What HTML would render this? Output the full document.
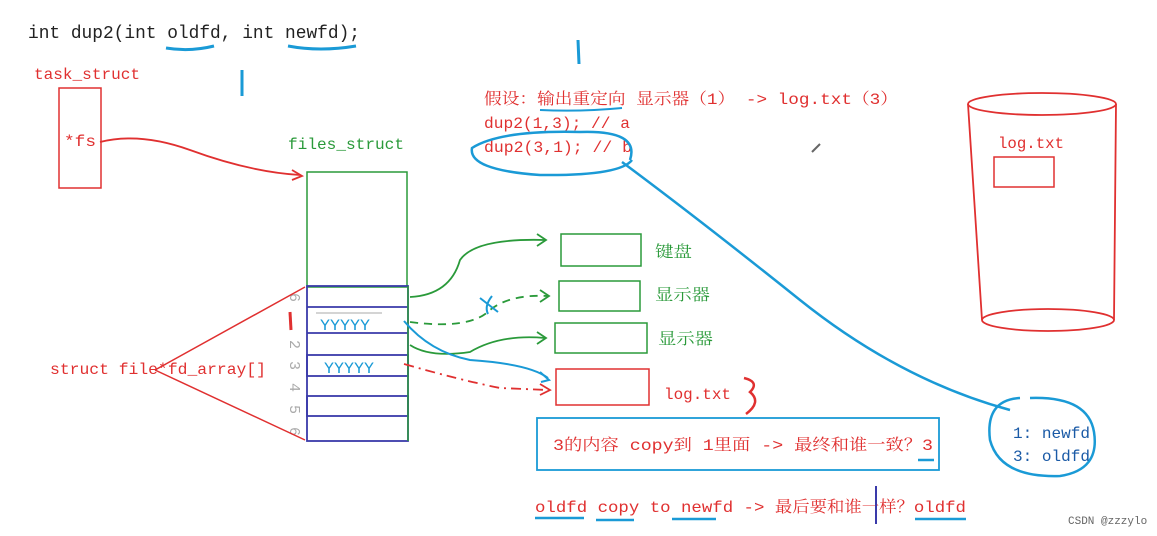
<!DOCTYPE html>
<html><head><meta charset="utf-8"><style>
body{margin:0;background:#fff;}
svg{display:block}
text{font-family:"Liberation Mono","Noto Serif CJK SC","Noto Sans CJK SC",monospace;}
</style></head><body>
<svg width="1157" height="536" viewBox="0 0 1157 536" xmlns="http://www.w3.org/2000/svg">
<rect width="1157" height="536" fill="#fff"/>
<text x="28" y="38" font-size="18" fill="#222" textLength="332" lengthAdjust="spacingAndGlyphs">int dup2(int oldfd, int newfd);</text>
<path d="M166 48 Q190 52 214 46" stroke="#1a9ad6" stroke-width="3" fill="none"/>
<path d="M288 46 Q320 52 356 46" stroke="#1a9ad6" stroke-width="3" fill="none"/>
<path d="M242 70 L242 96" stroke="#1a9ad6" stroke-width="3"/>
<path d="M578 40 L579 64" stroke="#1a9ad6" stroke-width="3"/>
<text x="34" y="79" font-size="16" fill="#e03030" textLength="106" lengthAdjust="spacingAndGlyphs">task_struct</text>
<rect x="59" y="88" width="42" height="100" fill="none" stroke="#e03030" stroke-width="1.5"/>
<text x="64" y="146" font-size="16" fill="#e03030" textLength="32" lengthAdjust="spacingAndGlyphs">*fs</text>
<path d="M100 142 Q140 132 190 150 Q250 172 300 175" stroke="#e03030" stroke-width="1.8" fill="none"/>
<path d="M292 170 L302 176 L292 180" stroke="#e03030" stroke-width="1.8" fill="none"/>
<text x="288" y="149" font-size="16" fill="#2a9a3a" textLength="116" lengthAdjust="spacingAndGlyphs">files_struct</text>
<rect x="307" y="172" width="100" height="115" fill="none" stroke="#2a9a3a" stroke-width="1.5"/>
<g stroke="#3a3aaa" stroke-width="1.8" fill="none">
<rect x="307" y="286" width="101" height="155"/>
<line x1="307" y1="307" x2="408" y2="307"/>
<line x1="307" y1="333" x2="408" y2="333"/>
<rect x="307" y="355" width="101" height="21"/>
<rect x="307" y="396" width="101" height="20"/>
</g>
<line x1="408" y1="286" x2="408" y2="441" stroke="#2a9a3a" stroke-width="1.5"/>
<line x1="316" y1="313" x2="382" y2="313" stroke="#aaa" stroke-width="1"/>
<text x="320" y="330" font-size="16" fill="#1a9ad6" textLength="50" lengthAdjust="spacingAndGlyphs">YYYYY</text>
<text x="324" y="373" font-size="16" fill="#1a9ad6" textLength="50" lengthAdjust="spacingAndGlyphs">YYYYY</text>
<g font-size="15" fill="#aaa">
<text x="285" y="298" transform="rotate(90 290 298)">6</text>
<text x="285" y="345" transform="rotate(90 290 345)">2</text>
<text x="285" y="366" transform="rotate(90 290 366)">3</text>
<text x="285" y="388" transform="rotate(90 290 388)">4</text>
<text x="285" y="410" transform="rotate(90 290 410)">5</text>
<text x="285" y="432" transform="rotate(90 290 432)">6</text>
</g>
<path d="M290 312 L291 330" stroke="#e03030" stroke-width="3"/>
<text x="50" y="374" font-size="16" fill="#e03030" textLength="216" lengthAdjust="spacingAndGlyphs">struct file*fd_array[]</text>
<path d="M155 370 L305 287 M155 370 L305 440" stroke="#e03030" stroke-width="1.5" fill="none"/>
<g font-size="16" fill="#2a9a3a">
<rect x="561" y="234" width="80" height="32" fill="none" stroke="#2a9a3a" stroke-width="1.5"/>
<text x="655" y="257" textLength="37" lengthAdjust="spacingAndGlyphs">键盘</text>
<rect x="559" y="281" width="81" height="30" fill="none" stroke="#2a9a3a" stroke-width="1.5"/>
<text x="655" y="300" textLength="55" lengthAdjust="spacingAndGlyphs">显示器</text>
<rect x="555" y="323" width="92" height="30" fill="none" stroke="#2a9a3a" stroke-width="1.5"/>
<text x="658" y="344" textLength="55" lengthAdjust="spacingAndGlyphs">显示器</text>
</g>
<rect x="556" y="369" width="93" height="36" fill="none" stroke="#e03030" stroke-width="1.5"/>
<text x="664" y="399" font-size="16" fill="#e03030" textLength="67" lengthAdjust="spacingAndGlyphs">log.txt</text>
<path d="M744 378 Q760 382 750 392 Q762 402 746 414" stroke="#e03030" stroke-width="2.5" fill="none"/>
<path d="M410 297 Q450 295 460 260 Q475 238 545 240" stroke="#2a9a3a" stroke-width="1.8" fill="none"/>
<path d="M537 234 L546 240 L537 246" stroke="#2a9a3a" stroke-width="1.8" fill="none"/>
<path d="M410 322 Q470 330 490 310 Q510 294 548 296" stroke="#2a9a3a" stroke-width="1.8" fill="none" stroke-dasharray="8 6"/>
<path d="M540 290 L549 296 L540 302" stroke="#2a9a3a" stroke-width="1.8" fill="none"/>
<path d="M480 298 L498 312 M492 296 Q484 306 488 314" stroke="#1a9ad6" stroke-width="2" fill="none"/>
<path d="M410 345 Q430 358 470 352 Q500 334 545 338" stroke="#2a9a3a" stroke-width="1.8" fill="none"/>
<path d="M537 332 L546 338 L537 344" stroke="#2a9a3a" stroke-width="1.8" fill="none"/>
<path d="M404 321 Q430 352 470 360 Q530 364 548 378" stroke="#1a9ad6" stroke-width="2" fill="none"/>
<path d="M540 372 L549 380 L541 382" stroke="#1a9ad6" stroke-width="2" fill="none"/>
<path d="M404 364 Q460 380 500 388 L548 390" stroke="#e03030" stroke-width="1.8" fill="none" stroke-dasharray="10 5 2 5"/>
<path d="M540 384 L550 390 L540 395" stroke="#e03030" stroke-width="1.8" fill="none"/>
<rect x="537" y="418" width="402" height="52" fill="none" stroke="#1a9ad6" stroke-width="1.8"/>
<text x="553" y="450" font-size="16" fill="#e03030" textLength="380" lengthAdjust="spacingAndGlyphs">3的内容 copy到 1里面 -&gt; 最终和谁一致？3</text>
<path d="M918 460 L934 460" stroke="#1a9ad6" stroke-width="2.5"/>
<text x="484" y="104" font-size="16" fill="#e03030" textLength="414" lengthAdjust="spacingAndGlyphs">假设：输出重定向 显示器（1） -&gt; log.txt（3）</text>
<path d="M540 110 Q580 112 622 108" stroke="#1a9ad6" stroke-width="2" fill="none"/>
<text x="484" y="128" font-size="16" fill="#e03030" textLength="146" lengthAdjust="spacingAndGlyphs">dup2(1,3); // a</text>
<text x="484" y="152" font-size="16" fill="#e03030" textLength="148" lengthAdjust="spacingAndGlyphs">dup2(3,1); // b</text>
<path d="M630 160 Q640 130 580 132 Q500 130 472 148 Q468 170 540 175 Q620 176 632 160" stroke="#1a9ad6" stroke-width="2.5" fill="none"/>
<path d="M622 162 Q700 220 800 300 Q900 380 1010 410" stroke="#1a9ad6" stroke-width="2.5" fill="none"/>
<path d="M1020 398 Q985 400 990 440 Q1000 478 1060 476 Q1100 470 1094 432 Q1088 396 1030 398" stroke="#1a9ad6" stroke-width="2.5" fill="none"/>
<text x="1013" y="438" font-size="16" fill="#1a5aa6" textLength="77" lengthAdjust="spacingAndGlyphs">1: newfd</text>
<text x="1013" y="461" font-size="16" fill="#1a5aa6" textLength="77" lengthAdjust="spacingAndGlyphs">3: oldfd</text>
<path d="M812 152 L820 144" stroke="#666" stroke-width="2"/>
<ellipse cx="1042" cy="104" rx="74" ry="11" fill="none" stroke="#e03030" stroke-width="1.8"/>
<path d="M968 104 L982 320 M1116 104 L1114 320" stroke="#e03030" stroke-width="1.8" fill="none"/>
<ellipse cx="1048" cy="320" rx="66" ry="11" fill="none" stroke="#e03030" stroke-width="1.8"/>
<text x="998" y="148" font-size="16" fill="#e03030" textLength="66" lengthAdjust="spacingAndGlyphs">log.txt</text>
<rect x="994" y="157" width="60" height="30" fill="none" stroke="#e03030" stroke-width="1.5"/>
<text x="535" y="512" font-size="16" fill="#e03030" textLength="431" lengthAdjust="spacingAndGlyphs">oldfd copy to newfd -&gt; 最后要和谁一样？oldfd</text>
<path d="M535 518 L584 518 M596 520 L634 520 M672 519 L716 519 M915 519 L966 519" stroke="#1a9ad6" stroke-width="2.5"/>
<path d="M876 486 L876 524" stroke="#3a3aaa" stroke-width="2"/>
<text x="1068" y="524" font-size="11" fill="#666" font-family="Liberation Sans, sans-serif">CSDN @zzzylo</text>
</svg>
</body></html>
